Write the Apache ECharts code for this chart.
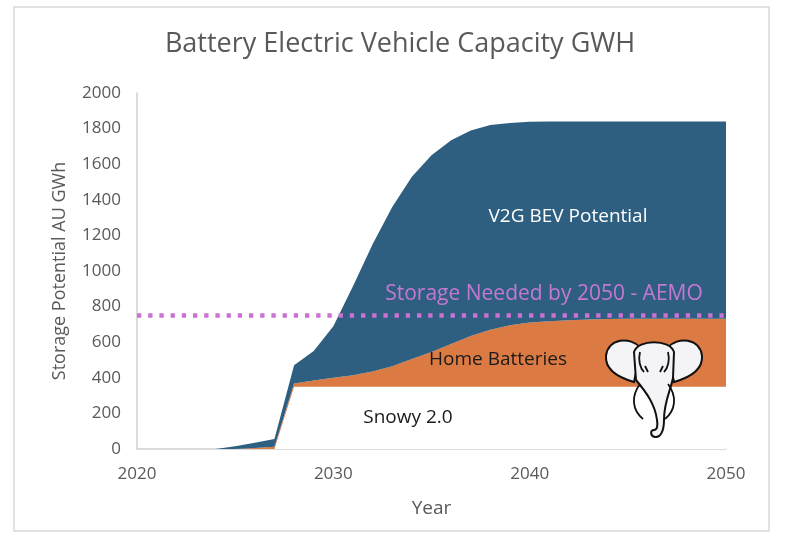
<!DOCTYPE html>
<html>
<head>
<meta charset="utf-8">
<script src="https://cdn.jsdelivr.net/npm/echarts@6/dist/echarts.min.js"></script>
<style>
html,body{margin:0;padding:0;background:#fff;}
#chart{width:800px;height:554px;}
</style>
</head>
<body>
<div id="chart"></div>
<script>
// ---- Data ----
const years = ['2020','2021','2022','2023','2024','2025','2026','2027','2028','2029','2030','2031','2032','2033','2034','2035','2036','2037','2038','2039','2040','2041','2042','2043','2044','2045','2046','2047','2048','2049','2050'];
const snowy = [0,0,0,0,0,0,0,0,350,350,350,350,350,350,350,350,350,350,350,350,350,350,350,350,350,350,350,350,350,350,350];
const homeBatteries = [0,0,0,0,0,0,5,13,18,35,50,65,85,115,155,195,240,285,320,345,360,368,374,377,380,382,382,382,382,382,382];
const v2gBev = [0,0,0,0,0,15,30,43,102,165,290,500,715,895,1025,1105,1145,1155,1150,1137,1128,1122,1116,1113,1110,1108,1108,1108,1108,1108,1108];
const aemoNeeded = years.map(() => 750);
const yTicks = {min:0, max:2000, step:200};
const xLabelEvery = 10;

const FONT = 'Open Sans';
const GRAY = '#595959';

const elephantPaths = [
  'M641 348 C630 336 608 338 606 356 C605 370 620 378 634 382 Z M667 348 C678 336 700 338 702 356 C703 370 688 378 674 382 Z',
  'M634 352 C638 339 670 339 674 352 L673 378 C670 392 664 402 664 420 C664 432 660 438 655 437 C650 436 650 430 654 430 C657 430 658 426 657 420 C655 404 646 392 636 380 Z',
  'M640 384 C631 396 632 410 643 419 M668 384 C677 396 676 410 665 419 M645 366 L648 372 M663 366 L660 372 M640 352 C638 360 640 368 644 372 M668 352 C670 360 668 368 664 372'
];

const chart = echarts.init(document.getElementById('chart'), null, {renderer:'canvas'});
chart.setOption({
  animation:false,
  backgroundColor:'#ffffff',
  textStyle:{fontFamily:FONT},
  title:{
    text:'Battery Electric Vehicle Capacity GWH',
    left:'center', top:26,
    textStyle:{fontFamily:FONT, fontSize:27, fontWeight:'normal', color:GRAY}
  },
  grid:{left:137, right:74, top:93, bottom:105},
  xAxis:{
    type:'category', data:years, boundaryGap:false,
    name:'Year', nameLocation:'middle', nameGap:50,
    nameTextStyle:{fontFamily:FONT, fontSize:19, color:GRAY},
    axisLine:{show:true, lineStyle:{color:'#D0D0D0', width:1.5}},
    axisTick:{show:false},
    splitLine:{show:false},
    axisLabel:{fontFamily:FONT, fontSize:17, color:GRAY, margin:17,
      interval:(i) => i % xLabelEvery === 0}
  },
  yAxis:{
    type:'value', min:yTicks.min, max:yTicks.max, interval:yTicks.step,
    name:'Storage Potential AU GWh', nameLocation:'middle', nameGap:68,
    nameTextStyle:{fontFamily:FONT, fontSize:18, color:GRAY},
    axisLine:{show:true, lineStyle:{color:'#D0D0D0', width:1.5}},
    axisTick:{show:false},
    splitLine:{show:false},
    axisLabel:{fontFamily:FONT, fontSize:17, color:GRAY, margin:16, formatter:(v)=>String(v)}
  },
  series:[
    {name:'Snowy 2.0', type:'line', stack:'s', data:snowy, showSymbol:false,
     lineStyle:{width:0}, areaStyle:{color:'#ffffff', opacity:1}, z:2},
    {name:'Home Batteries', type:'line', stack:'s', data:homeBatteries, showSymbol:false,
     lineStyle:{width:0}, areaStyle:{color:'#DB7A43', opacity:1}, z:2},
    {name:'V2G BEV Potential', type:'line', stack:'s', data:v2gBev, showSymbol:false,
     lineStyle:{width:0}, areaStyle:{color:'#2E5F80', opacity:1}, z:2},
    {name:'Storage Needed by 2050 - AEMO', type:'line', data:aemoNeeded, showSymbol:false,
     lineStyle:{color:'#CC70D2', width:4.3, type:[4.3,6.9], cap:'butt'}, z:5},
    {name:'elephant', type:'custom', data:[[0]], z:10, silent:true,
     renderItem: function(){
       return {type:'group', children:[
         {type:'path', shape:{pathData:elephantPaths[0]}, style:{fill:'#F4F4F6', stroke:'#111', lineWidth:2}},
         {type:'path', shape:{pathData:elephantPaths[1]}, style:{fill:'#F4F4F6', stroke:'#111', lineWidth:2}},
         {type:'path', shape:{pathData:elephantPaths[2]}, style:{fill:'none', stroke:'#111', lineWidth:1.8}}
       ]};
     }}
  ],
  graphic:[
    {type:'rect', shape:{x:14,y:7,width:755,height:524}, style:{fill:'none', stroke:'#D9D9D9', lineWidth:1.5}, silent:true, z:-1},
    {type:'text', x:568, y:217, style:{text:'V2G BEV Potential', fill:'#ffffff', font:'19px "Open Sans"', textAlign:'center', textVerticalAlign:'middle'}, z:10},
    {type:'text', x:544, y:294, style:{text:'Storage Needed by 2050 - AEMO', fill:'#C578D2', font:'21px "Open Sans"', textAlign:'center', textVerticalAlign:'middle'}, z:10},
    {type:'text', x:498, y:360, style:{text:'Home Batteries', fill:'#1a1a1a', font:'19px "Open Sans"', textAlign:'center', textVerticalAlign:'middle'}, z:10},
    {type:'text', x:408, y:418, style:{text:'Snowy 2.0', fill:'#1a1a1a', font:'19px "Open Sans"', textAlign:'center', textVerticalAlign:'middle'}, z:10}
  ]
});
</script>
</body>
</html>
